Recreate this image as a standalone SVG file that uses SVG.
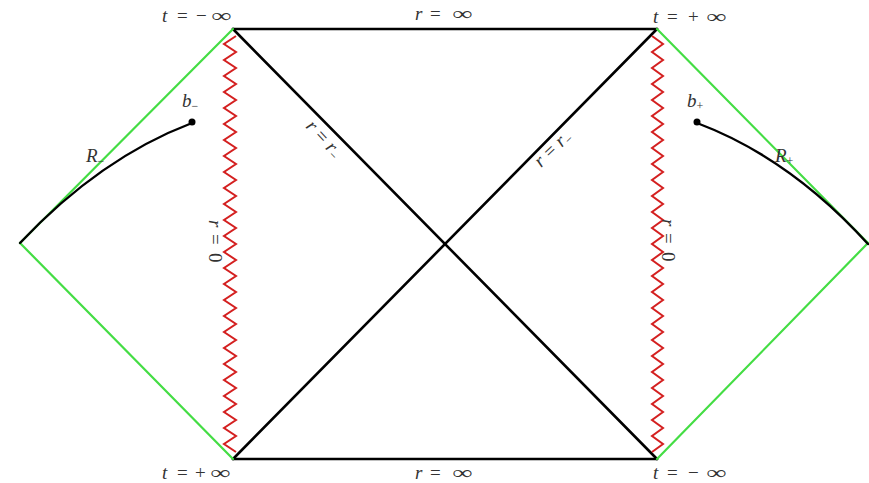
<svg xmlns="http://www.w3.org/2000/svg" width="869" height="483" viewBox="0 0 869 483">
<style>
.blk{stroke:#000;stroke-width:2.6;fill:none;stroke-linecap:round}
.grn{stroke:#44dd44;stroke-width:2.2;fill:none;stroke-linecap:round}
.zz{stroke:#d42020;stroke-width:2;fill:none;stroke-linejoin:miter}
.cur{stroke:#000;stroke-width:2.4;fill:none;stroke-linecap:round}
text{font-family:"Liberation Serif","DejaVu Serif",serif;font-size:19px;fill:#333}
.it{font-style:italic}
.sub{font-size:12px;font-style:normal}
</style>
<rect width="869" height="483" fill="#fff"/>
<g id="connectors">
<line class="blk" x1="233" y1="29" x2="657" y2="29"/>
<line class="blk" x1="233" y1="459" x2="657" y2="459"/>
<line class="blk" x1="233" y1="29" x2="657" y2="459"/>
<line class="blk" x1="233" y1="459" x2="657" y2="29"/>
<line class="grn" x1="233" y1="29" x2="20" y2="243"/>
<line class="grn" x1="233" y1="459" x2="20" y2="243"/>
<line class="grn" x1="657" y1="29" x2="868" y2="243"/>
<line class="grn" x1="657" y1="459" x2="868" y2="243"/>
<path class="zz" d="M236,36 l-12,8l12,8l-12,8l12,8l-12,8l12,8l-12,8l12,8l-12,8l12,8
l-12,8l12,8l-12,8l12,8l-12,8l12,8l-12,8l12,8l-12,8l12,8
l-12,8l12,8l-12,8l12,8l-12,8l12,8l-12,8l12,8l-12,8l12,8
l-12,8l12,8l-12,8l12,8l-12,8l12,8l-12,8l12,8l-12,8l12,8
l-12,8l12,8l-12,8l12,8l-12,8l12,8l-12,8l12,8l-12,8l12,8
l-12,8l12,8"/>
<path class="zz" d="M652,36 l11,8l-11,8l11,8l-11,8l11,8l-11,8l11,8l-11,8l11,8l-11,8
l11,8l-11,8l11,8l-11,8l11,8l-11,8l11,8l-11,8l11,8l-11,8
l11,8l-11,8l11,8l-11,8l11,8l-11,8l11,8l-11,8l11,8l-11,8
l11,8l-11,8l11,8l-11,8l11,8l-11,8l11,8l-11,8l11,8l-11,8
l11,8l-11,8l11,8l-11,8l11,8l-11,8l11,8l-11,8l11,8l-11,8
l11,8l-11,8"/>
<path class="cur" d="M20,243 Q100,158 192,123"/>
<path class="cur" d="M868,244 Q790,158 697,123"/>
</g>
<g id="node-bminus"><circle cx="192" cy="122" r="3.5" fill="#000"/><text class="it" x="182" y="107">b<tspan class="sub" dy="3">−</tspan></text></g>
<g id="node-bplus"><circle cx="697" cy="122" r="3.5" fill="#000"/><text class="it" x="687" y="107">b<tspan class="sub" dy="3">+</tspan></text></g>
<g id="label-Rminus"><text class="it" x="86" y="162">R<tspan class="sub" dy="3">−</tspan></text></g>
<g id="label-Rplus"><text class="it" x="775" y="162">R<tspan class="sub" dy="3">+</tspan></text></g>
<g id="label-tl"><text y="22"><tspan class="it" x="162">t</tspan><tspan x="177">=</tspan><tspan x="196">−</tspan></text><text transform="translate(211,22) scale(1.5,1)">∞</text></g>
<g id="label-tr"><text y="23"><tspan class="it" x="653">t</tspan><tspan x="667">=</tspan><tspan x="688">+</tspan></text><text transform="translate(706,23) scale(1.5,1)">∞</text></g>
<g id="label-bl"><text y="479"><tspan class="it" x="162">t</tspan><tspan x="177">=</tspan><tspan x="195">+</tspan></text><text transform="translate(210,479) scale(1.5,1)">∞</text></g>
<g id="label-br"><text y="479"><tspan class="it" x="653">t</tspan><tspan x="667">=</tspan><tspan x="688">−</tspan></text><text transform="translate(706,479) scale(1.5,1)">∞</text></g>
<g id="label-rtop"><text y="20"><tspan class="it" x="415">r</tspan><tspan x="430">=</tspan></text><text transform="translate(452,20) scale(1.5,1)">∞</text></g>
<g id="label-rbot"><text y="479"><tspan class="it" x="415">r</tspan><tspan x="430">=</tspan></text><text transform="translate(452,479) scale(1.5,1)">∞</text></g>
<g id="label-r0-left"><text transform="translate(209,220) rotate(90)"><tspan class="it" x="0">r</tspan><tspan x="14">=</tspan><tspan x="33">0</tspan></text></g>
<g id="label-r0-right"><text transform="translate(662,219) rotate(90)"><tspan class="it" x="0">r</tspan><tspan x="14">=</tspan><tspan x="33">0</tspan></text></g>
<g id="label-rrm-left"><text transform="translate(305,127) rotate(47)"><tspan class="it" x="0">r</tspan><tspan x="13">=</tspan><tspan class="it" x="29">r</tspan><tspan class="sub" dy="3">−</tspan></text></g>
<g id="label-rrm-right"><text transform="translate(541,168) rotate(-44)"><tspan class="it" x="0">r</tspan><tspan x="13">=</tspan><tspan class="it" x="29">r</tspan><tspan class="sub" dy="3">−</tspan></text></g>
</svg>
